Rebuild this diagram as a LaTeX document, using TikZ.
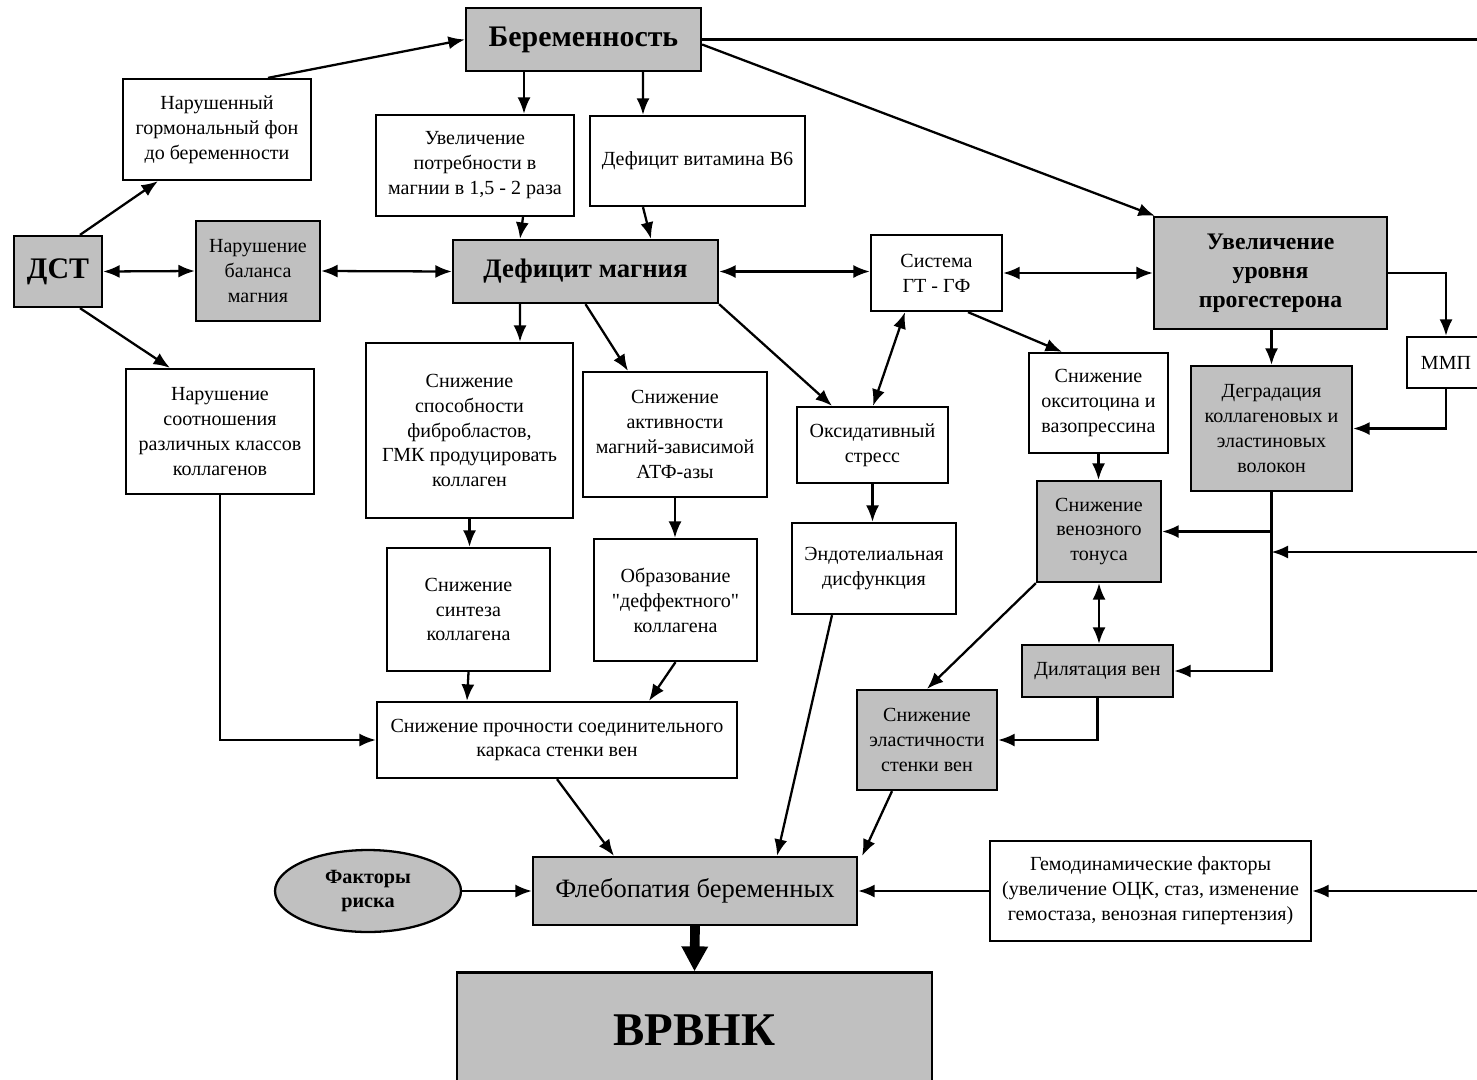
\documentclass[tikz,border=0pt]{standalone}
\usepackage{fontspec}
\setmainfont{Liberation Serif}
\usepackage{xcolor}
\usepackage{tikz}
\usetikzlibrary{arrows.meta,calc,shapes.geometric}
\definecolor{boxgray}{RGB}{192,192,192}
\tikzset{
  box/.style={
    draw,
    line width=1.3pt,
    align=center,
    inner sep=1pt,
    font=\fontsize{11.4}{14.2}\selectfont
  },
  graybox/.style={
    box,
    fill=boxgray
  },
  arr/.style={
    line width=1.3pt,
    -{Latex[length=3.3mm,width=2.6mm]}
  },
  dbl/.style={
    line width=1.3pt,
    {Latex[length=3.3mm,width=2.6mm]}-{Latex[length=3.3mm,width=2.6mm]}
  },
  bigarr/.style={
    line width=5.5pt,
    -{Triangle[length=5mm,width=5mm]}
  }
}
\begin{document}
\begin{tikzpicture}[x=0.02cm,y=-0.02cm]
  \useasboundingbox[fill=white] (0,0) rectangle (1477,1079);
  % top row
  \node[graybox, minimum width=4.70cm, minimum height=1.26cm, font=\fontsize{17}{20}\selectfont\bfseries] (preg) at (583.5,39.5) {Беременность};
  \node[box, minimum width=3.76cm, minimum height=2.02cm] (hormon) at (217,129.5) {Нарушенный\\гормональный фон\\до беременности};
  \node[box, minimum width=3.96cm, minimum height=2.02cm] (need) at (475,165.5) {Увеличение\\потребности в\\магнии в 1,5 - 2 раза};
  \node[box, minimum width=4.30cm, minimum height=1.80cm] (vitb6) at (697.5,161) {Дефицит витамина В6};
  % second row
  \node[graybox, minimum width=1.76cm, minimum height=1.42cm, font=\fontsize{17}{20}\selectfont\bfseries] (dst) at (58,271.5) {ДСТ};
  \node[graybox, minimum width=2.48cm, minimum height=2.00cm] (balance) at (258,271) {Нарушение\\баланса\\магния};
  \node[graybox, minimum width=5.30cm, minimum height=1.26cm, font=\fontsize{15.2}{18}\selectfont\bfseries] (mgdef) at (585.5,271.5) {Дефицит магния};
  \node[box, minimum width=2.62cm, minimum height=1.52cm] (gtgf) at (936.5,273) {Система\\ГТ - ГФ};
  \node[graybox, minimum width=4.66cm, minimum height=2.24cm, font=\fontsize{13.5}{16.5}\selectfont\bfseries] (progest) at (1270.5,273) {Увеличение\\уровня\\прогестерона};
  \node[box, minimum width=1.56cm, minimum height=1.02cm] (mmp) at (1446,362.5) {ММП};
  % third row
  \node[box, minimum width=3.76cm, minimum height=2.50cm] (ratio) at (220,431.5) {Нарушение\\соотношения\\различных классов\\коллагенов};
  \node[box, minimum width=4.14cm, minimum height=3.50cm] (fibro) at (469.5,430.5) {Снижение\\способности\\фибробластов,\\ГМК продуцировать\\коллаген};
  \node[box, minimum width=3.68cm, minimum height=2.50cm] (atp) at (675,434.5) {Снижение\\активности\\магний-зависимой\\АТФ-азы};
  \node[box, minimum width=3.02cm, minimum height=1.52cm] (oxid) at (872.5,445) {Оксидативный\\стресс};
  \node[box, minimum width=2.78cm, minimum height=2.00cm] (oxyt) at (1098.5,403) {Снижение\\окситоцина и\\вазопрессина};
  \node[graybox, minimum width=3.22cm, minimum height=2.50cm] (degr) at (1271.5,428.5) {Деградация\\коллагеновых и\\эластиновых\\волокон};
  % fourth row
  \node[box, minimum width=3.26cm, minimum height=2.46cm] (synth) at (468.5,609.5) {Снижение\\синтеза\\коллагена};
  \node[box, minimum width=3.26cm, minimum height=2.44cm] (defect) at (675.5,600) {Образование\\\textquotedbl деффектного\textquotedbl\\коллагена};
  \node[box, minimum width=3.28cm, minimum height=1.82cm] (endo) at (874,568.5) {Эндотелиальная\\дисфункция};
  \node[graybox, minimum width=2.48cm, minimum height=2.02cm] (tonus) at (1099,531.5) {Снижение\\венозного\\тонуса};
  \node[graybox, minimum width=3.02cm, minimum height=1.04cm] (dilat) at (1097.5,671) {Дилятация вен};
  \node[box, minimum width=7.20cm, minimum height=1.52cm] (strength) at (557,740) {Снижение прочности соединительного\\каркаса стенки вен};
  \node[graybox, minimum width=2.80cm, minimum height=2.00cm] (elast) at (927,740) {Снижение\\эластичности\\стенки вен};
  % bottom
  \node[graybox, ellipse, minimum width=3.72cm, minimum height=1.64cm, font=\fontsize{11.5}{14.2}\selectfont\bfseries] (risk) at (368,891) {Факторы\\риска};
  \node[graybox, minimum width=6.48cm, minimum height=1.36cm, font=\fontsize{15.1}{18}\selectfont] (phleb) at (695,891) {Флебопатия беременных};
  \node[box, minimum width=6.42cm, minimum height=2.00cm] (hemo) at (1150.5,891) {Гемодинамические факторы\\(увеличение ОЦК, стаз, изменение\\гемостаза, венозная гипертензия)};
  \node[graybox, minimum width=9.50cm, minimum height=2.30cm, font=\fontsize{26.7}{30}\selectfont\bfseries] (vrvnk) at (694.5,1030) {ВРВНК};
  % free ends at the right edge
  \coordinate (edgeA) at (1490,39.5);
  \coordinate (edgeB) at (1490,552);
  \coordinate (edgeC) at (1490,891);
  % connectors
  \draw[arr] ($(hormon.north)+(51,0)$) -- (preg.west);
  \draw[arr] ($(dst.north)+(22,0)$) -- ($(hormon.south)+(-59,0)$);
  \draw[dbl] (dst.east) -- (balance.west);
  \draw[dbl] (balance.east) -- (mgdef.west);
  \draw[arr] ($(dst.south)+(22,0)$) -- ($(ratio.north)+(-50,0)$);
  \draw[arr] ($(preg.south)+(-59.5,0)$) -- ($(need.north)+(49,0)$);
  \draw[arr] ($(preg.south)+(59.5,0)$) -- ($(vitb6.north)+(-54.5,0)$);
  \draw[arr] ($(need.south)+(48,0)$) -- ($(mgdef.north)+(-65.5,0)$);
  \draw[arr] ($(vitb6.south)+(-54.5,0)$) -- ($(mgdef.north)+(65.5,0)$);
  \draw[line width=1.3pt] (preg.east) -- (edgeA);
  \draw[arr] ($(preg.east)+(0,5)$) -- ($(progest.north west)+(2,0)$);
  \draw[dbl] (mgdef.east) -- (mgdef.east -| gtgf.west);
  \draw[dbl] (gtgf.east) -- (gtgf.east -| progest.west);
  \draw[arr] ($(mgdef.south)+(-65.5,0)$) -- ($(fibro.north)+(50.5,0)$);
  \draw[arr] (mgdef.south) -- ($(atp.north)+(-47,0)$);
  \draw[arr] (mgdef.south east) -- ($(oxid.north)+(-40.5,0)$);
  \draw[dbl] ($(oxid.north)+(0.5,0)$) -- ($(gtgf.south)+(-31.5,0)$);
  \draw[arr] ($(gtgf.south)+(31.5,0)$) -- ($(oxyt.north)+(-36.5,0)$);
  \draw[arr] (progest.south -| degr.north) -- (degr.north);
  \draw[arr] (progest.east) -| (mmp.north);
  \draw[arr] (mmp.south) |- (degr.east);
  \draw[arr] (oxyt.south) -- (oxyt.south |- tonus.north);
  \draw[arr] (degr.south) |- (dilat.east);
  \draw[arr] (degr.south |- tonus.east) -- (tonus.east);
  \draw[arr] (edgeB) -- (edgeB -| degr.south);
  \draw[dbl] (tonus.south) -- (tonus.south |- dilat.north);
  \draw[arr] (tonus.south west) -- (elast.north);
  \draw[arr] (dilat.south) |- (elast.east);
  \draw[arr] (ratio.south) |- (strength.west);
  \draw[arr] (fibro.south) -- (fibro.south |- synth.north);
  \draw[arr] (atp.south) -- (atp.south |- defect.north);
  \draw[arr] (oxid.south) -- (oxid.south |- endo.north);
  \draw[arr] (synth.south) -- ($(strength.north)+(-90,0)$);
  \draw[arr] (defect.south) -- ($(strength.north)+(92,0)$);
  \draw[arr] (strength.south) -- ($(phleb.north)+(-81,0)$);
  \draw[arr] ($(endo.south)+(-42,0)$) -- ($(phleb.north)+(82,0)$);
  \draw[arr] ($(elast.south)+(-35,0)$) -- ($(phleb.north east)+(4,0)$);
  \draw[arr] (risk.east) -- (phleb.west);
  \draw[arr] (hemo.west) -- (phleb.east);
  \draw[arr] (edgeC) -- (hemo.east);
  \draw[bigarr] (phleb.south) -- (vrvnk.north);
\end{tikzpicture}
\end{document}
